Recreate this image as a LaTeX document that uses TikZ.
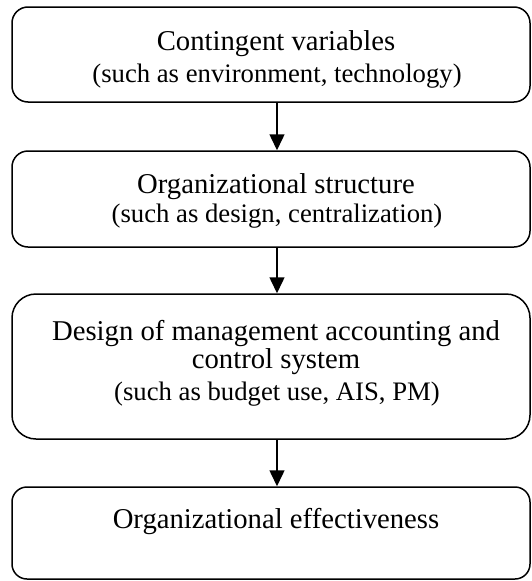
\documentclass[tikz,border=0pt]{standalone}
\usepackage{fontspec}
\setmainfont{Liberation Serif}
\usetikzlibrary{arrows.meta}
\begin{document}
\begin{tikzpicture}[x=1pt,y=-1pt,
  stagebox/.style={draw=black, line width=1.5pt, rectangle, rounded corners=#1,
    minimum width=518pt, inner sep=0pt},
  mainline/.style={anchor=base, inner sep=0pt, font=\fontsize{28.7}{32}\selectfont},
  subline/.style={anchor=base, inner sep=0pt, font=\fontsize{26.7}{30}\selectfont},
  flow/.style={line width=1.5pt, -{Triangle[width=15pt,length=16pt]}}]
\useasboundingbox (0,0) rectangle (531,581);

% stage boxes
\node[stagebox=16pt, minimum height=95pt]  (b1) at (271,54.5) {};
\node[stagebox=16pt, minimum height=96pt]  (b2) at (271,199) {};
\node[stagebox=24pt, minimum height=145pt] (b3) at (271,366.5) {};
\node[stagebox=15pt, minimum height=92pt]  (b4) at (271,533) {};

% box texts
\node[mainline] (t1a) at (276,50.6) {Contingent variables};
\node[subline]  (t1b) at (277,82)   {(such as environment, technology)};
\node[mainline] (t2a) at (276,193)  {Organizational structure};
\node[subline]  (t2b) at (277,222)  {(such as design, centralization)};
\node[mainline] (t3a) at (276,340)  {Design of management accounting and};
\node[mainline] (t3b) at (276,368)  {control system};
\node[subline]  (t3c) at (277,400)  {(such as budget use, AIS, PM)};
\node[mainline] (t4a) at (276,528)  {Organizational effectiveness};

% arrows between stages
\draw[flow] ([xshift=6pt]b1.south) -- ([xshift=6pt]b2.north);
\draw[flow] ([xshift=6pt]b2.south) -- ([xshift=6pt]b3.north);
\draw[flow] ([xshift=6pt]b3.south) -- ([xshift=6pt]b4.north);
\end{tikzpicture}
\end{document}
